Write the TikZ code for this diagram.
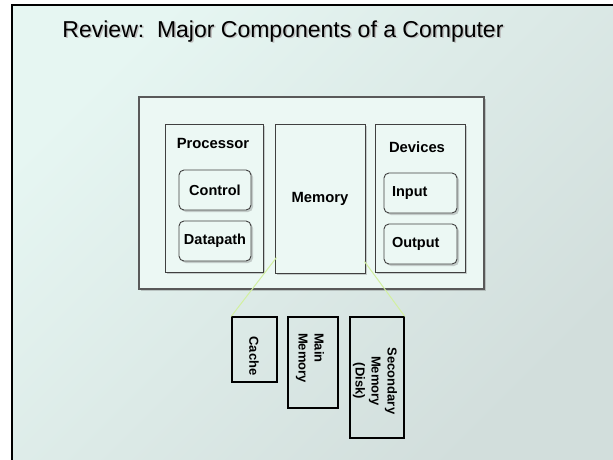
\documentclass[tikz,border=0pt]{standalone}
\usepackage{fontspec}
\setmainfont{Liberation Sans}
\usetikzlibrary{shadows,calc}
\definecolor{bgA}{HTML}{E6F6F2}
\definecolor{bgB}{HTML}{D2DEDC}
\definecolor{boxfill}{HTML}{ECF8F4}
\definecolor{linkgreen}{HTML}{D2F0A0}
\tikzset{
 shad/.style={drop shadow={shadow xshift=2pt,shadow yshift=-2pt,opacity=0.3,fill=black!60}},
 outerbox/.style={draw=black!65, line width=1.2pt, fill=boxfill, inner sep=0pt, shad},
 unitbox/.style={draw=black!75, line width=1pt, fill=boxfill, inner sep=0pt, shad},
 partbox/.style={draw=black!75, line width=0.9pt, fill=boxfill, rounded corners=5pt, inner sep=0pt, shad, font=\bfseries\fontsize{14.5}{16}\selectfont},
 levelbox/.style={draw=black, line width=1.4pt, inner sep=0pt},
 unitlabel/.style={font=\bfseries\fontsize{14.8}{17}\selectfont},
 leveltext/.style={rotate=-90, font=\bfseries\fontsize{13}{16}\selectfont, inner sep=0pt},
 link/.style={draw=linkgreen, line width=1pt},
 titlefont/.style={font=\fontsize{23}{27}\selectfont, anchor=base},
}
\begin{document}
\begin{tikzpicture}[x=1pt,y=-1pt]
\useasboundingbox (0,0) rectangle (613,459);
\fill[white] (0,0) rectangle (613,459);
\shade[top color=bgA, bottom color=bgB, shading angle=45] (12,5) rectangle (613,459);
\draw[line width=2pt] (12,470) -- (12,5) -- (625,5);
\node[titlefont, text=black!25] (titleshadow) at (284.5,38.5) {Review:\ \ Major Components of a Computer};
\node[titlefont] (title) at (283,37) {Review:\ \ Major Components of a Computer};

\node[outerbox, minimum width=345pt, minimum height=192pt] (sys) at (311.5,193) {};
\node[unitbox, minimum width=98pt, minimum height=148pt] (proc) at (214,198) {};
\node[unitbox, unitlabel, minimum width=90pt, minimum height=149pt] (mem) at (320,198.5) {Memory};
\node[unitbox, minimum width=90pt, minimum height=148pt] (dev) at (420,198) {};
\node[unitlabel] (proclabel) at (213,143) {Processor};
\node[unitlabel] (devlabel) at (417,147) {Devices};
\node[partbox, minimum width=72pt, minimum height=40pt] (ctrl) at (215,190) {Control};
\node[partbox, minimum width=72pt, minimum height=40pt] (dp) at (215,241) {Datapath};
\node[partbox, minimum height=40pt, text width=57pt, inner xsep=8pt, align=left] (in) at (420.5,193) {Input};
\node[partbox, minimum height=40pt, text width=57pt, inner xsep=8pt, align=left] (out) at (420.5,244) {Output};

\node[levelbox, minimum width=45pt, minimum height=65pt] (cache) at (254.5,349.5) {};
\node[levelbox, minimum width=50pt, minimum height=91pt] (mainmem) at (313,362.5) {};
\node[levelbox, minimum width=54pt, minimum height=121pt] (sec) at (377,377.5) {};
\node[leveltext] (cachetext) at (254,356) {Cache};
\node[leveltext, align=left] (maintext) at (310,358) {Main\\Memory};
\node[leveltext, align=center] (sectext) at (375,381) {Secondary\\Memory\\(Disk)};

\draw[link] ($(mem.south west)+(2,-16)$) -- (cache.north west);
\draw[link] ($(mem.south east)+(-1,-12)$) -- (sec.north east);
\end{tikzpicture}
\end{document}
